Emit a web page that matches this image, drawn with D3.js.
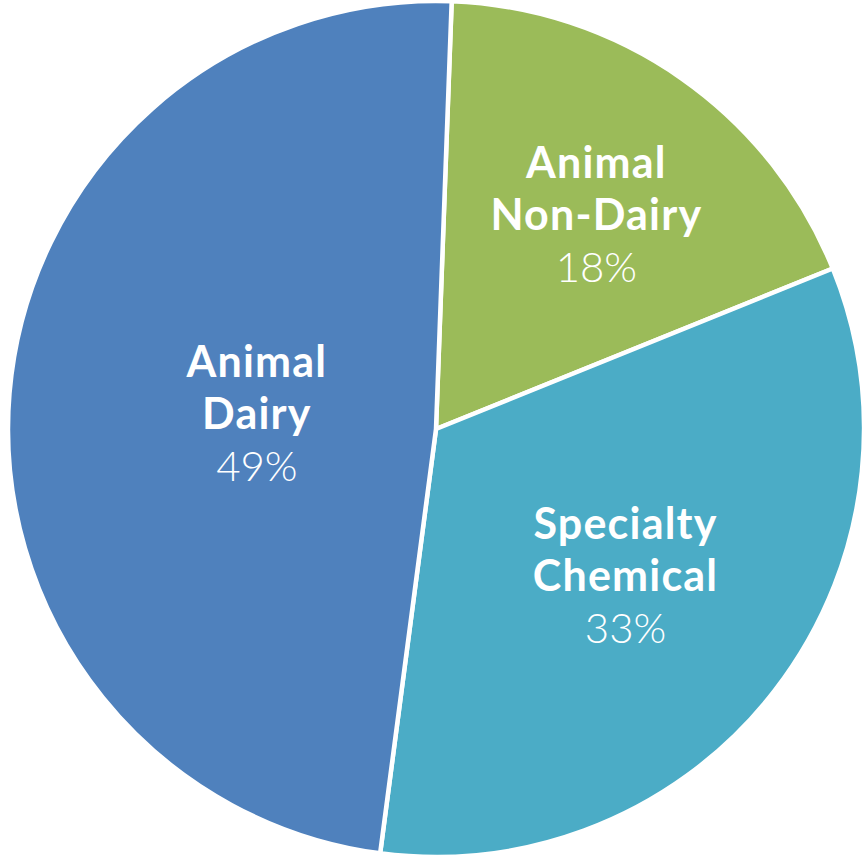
<!DOCTYPE html>
<html>
<head>
<meta charset="utf-8">
<script src="https://cdn.jsdelivr.net/npm/d3@7"></script>
<style>
html,body{margin:0;padding:0;background:#fff;}
svg{display:block;}
</style>
</head>
<body>
<svg id="chart" width="866" height="857"></svg>
<script>
// Data (order drawn clockwise starting just right of 12 o'clock)
const categories = ["Animal Non-Dairy", "Specialty Chemical", "Animal Dairy"];
const labelLines = [["Animal", "Non-Dairy"], ["Specialty", "Chemical"], ["Animal", "Dairy"]];
const values = [18.3, 33.2, 48.5];
const colors = ["#9BBB59", "#4BACC6", "#4F81BD"];

// Layout
const W = 866, H = 857;
const cx = 436, cy = 429, R = 428;
const startDeg = 2.1;
const labelRadiusFrac = [0.625, 0.56, 0.42];
const labelAngleShiftDeg = [1.8, 0, 0];
const lineH = 52;

const svg = d3.select("#chart");
const g = svg.append("g").attr("transform", `translate(${cx},${cy})`);

const total = d3.sum(values);
const pie = d3.pie().sort(null).value(d => d)
  .startAngle(startDeg * Math.PI / 180)
  .endAngle(startDeg * Math.PI / 180 + 2 * Math.PI);
const arcs = pie(values);
const arc = d3.arc().innerRadius(0).outerRadius(R);

g.selectAll("path.slice").data(arcs).join("path")
  .attr("class", "slice")
  .attr("d", arc)
  .attr("fill", (d, i) => colors[i])
  .attr("stroke", "#fff")
  .attr("stroke-width", 4.5)
  .attr("stroke-linejoin", "round");

const labels = g.selectAll("g.lbl").data(arcs).join("g")
  .attr("class", "lbl")
  .attr("transform", (d, i) => {
    const r = R * labelRadiusFrac[i];
    const shift = labelAngleShiftDeg[i] * Math.PI / 180;
    const dd = {startAngle: d.startAngle + shift, endAngle: d.endAngle + shift};
    const c = d3.arc().innerRadius(r).outerRadius(r).centroid(dd);
    return `translate(${c[0]},${c[1]})`;
  });

labels.each(function(d, i) {
  const sel = d3.select(this);
  const lines = labelLines[i];
  const pct = Math.round(values[i] / total * 100) + "%";
  const n = lines.length + 1;
  const y0 = -((n - 1) / 2) * lineH;
  lines.forEach((t, k) => {
    sel.append("text")
      .attr("x", 0).attr("y", y0 + k * lineH)
      .attr("dy", "0.36em")
      .attr("text-anchor", "middle")
      .attr("fill", "#fff")
      .attr("font-family", "Lato, 'Open Sans', sans-serif")
      .attr("font-weight", "bold")
      .attr("font-size", 43)
      .attr("letter-spacing", 1.2)
      .text(t);
  });
  sel.append("text")
    .attr("x", 0).attr("y", y0 + lines.length * lineH)
    .attr("dy", "0.36em")
    .attr("text-anchor", "middle")
    .attr("fill", "#fff")
    .attr("font-family", "Lato, 'Open Sans', sans-serif")
    .attr("font-weight", 300)
    .attr("font-size", 42)
    .text(pct);
});
</script>
</body>
</html>
